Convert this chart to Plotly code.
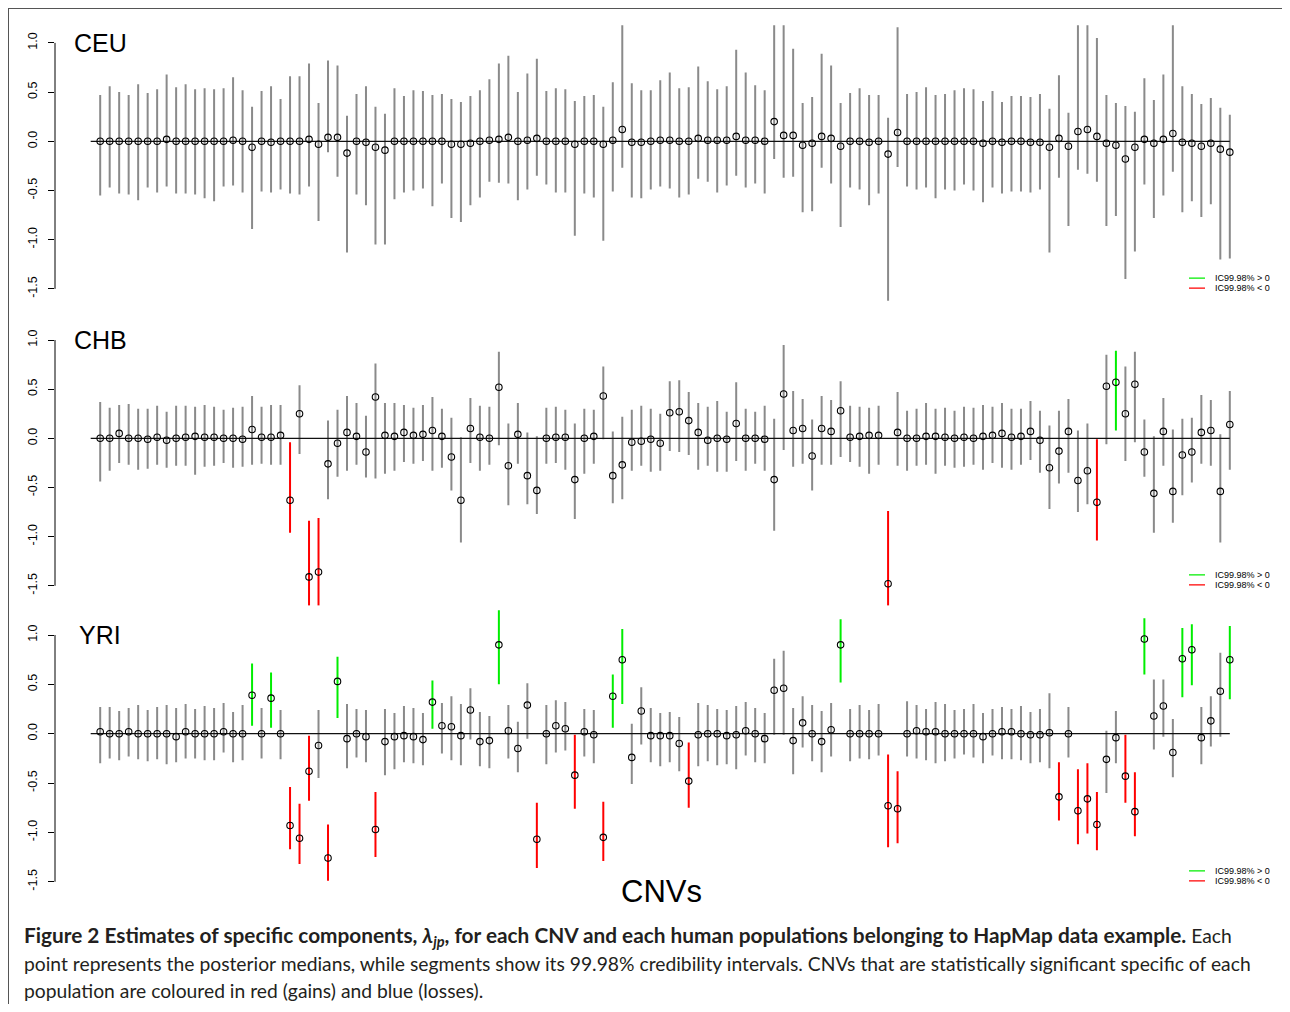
import plotly.graph_objects as go

# ---------------- data ----------------
cnv = list(range(1, 121))

ceu_med = [0,0,0,0,0,0,0,0.02,0,0,0,0,0,0,0.01,0,-0.06,0,-0.01,0,0,0,0.02,-0.03,0.04,0.04,-0.12,0,-0.01,-0.06,-0.09,0,0,0,0,0,0,-0.03,
           -0.03,-0.02,0,0.01,0.02,0.04,0,0.01,0.03,0,0,0,-0.03,0,0,-0.03,0.01,0.12,-0.01,-0.01,0,0.01,0.01,0,0,0.03,0.01,0.01,0.01,0.05,0.01,0.01,0,0.20,0.06,0.06,-0.04,-0.02,0.05,0.03,-0.05,0,0,
           -0.01,0,-0.13,0.09,0,0,0,0,0,0,0,0,-0.02,0,-0.01,0,0,-0.01,-0.01,-0.06,0.03,-0.05,0.10,0.12,0.05,-0.02,-0.04,-0.18,-0.06,0.02,-0.02,0.02,0.08,-0.01,-0.02,-0.05,-0.02,-0.08,-0.11]
ceu_hi = [0.47,0.56,0.50,0.47,0.58,0.49,0.53,0.68,0.55,0.58,0.53,0.54,0.53,0.54,0.65,0.52,0.35,0.51,0.56,0.43,0.66,0.66,0.79,0.39,0.82,0.77,0.26,0.48,0.56,0.35,0.28,0.54,0.46,0.52,0.51,0.47,0.48,0.43,
          0.40,0.46,0.52,0.63,0.79,0.87,0.50,0.69,0.84,0.51,0.54,0.53,0.41,0.46,0.47,0.35,0.60,1.30,0.59,0.52,0.52,0.62,0.70,0.54,0.55,0.76,0.61,0.53,0.56,0.93,0.70,0.57,0.52,1.30,1.30,0.94,0.39,0.45,0.89,0.77,0.39,0.49,0.54,
          0.47,0.47,0.24,1.16,0.48,0.50,0.55,0.47,0.48,0.52,0.54,0.53,0.41,0.51,0.40,0.46,0.46,0.45,0.48,0.33,0.67,0.29,1.30,1.30,1.05,0.47,0.39,0.36,0.30,0.64,0.42,0.68,1.30,0.56,0.48,0.38,0.44,0.34,0.27]
ceu_lo = [-0.55,-0.47,-0.53,-0.54,-0.60,-0.47,-0.52,-0.46,-0.53,-0.53,-0.54,-0.58,-0.61,-0.46,-0.45,-0.52,-0.89,-0.51,-0.52,-0.49,-0.53,-0.54,-0.46,-0.81,-0.11,-0.36,-1.13,-0.54,-0.65,-1.05,-1.05,-0.59,-0.52,-0.50,-0.48,-0.66,-0.43,-0.78,
          -0.82,-0.65,-0.57,-0.41,-0.42,-0.43,-0.60,-0.49,-0.35,-0.44,-0.52,-0.52,-0.96,-0.53,-0.57,-1.01,-0.51,-0.27,-0.57,-0.58,-0.49,-0.46,-0.48,-0.57,-0.54,-0.38,-0.41,-0.52,-0.45,-0.35,-0.47,-0.43,-0.53,-0.18,-0.37,-0.36,-0.72,-0.71,-0.27,-0.43,-0.87,-0.47,-0.49,
          -0.65,-0.53,-1.62,-0.26,-0.46,-0.49,-0.47,-0.58,-0.49,-0.50,-0.44,-0.50,-0.62,-0.47,-0.53,-0.51,-0.51,-0.52,-0.49,-1.13,-0.37,-0.86,-0.29,-0.33,-0.41,-0.86,-0.76,-1.40,-1.12,-0.44,-0.78,-0.55,-0.31,-0.72,-0.61,-0.77,-0.64,-1.20,-1.19]

chb_med = [0,0,0.05,0,0,-0.01,0.01,-0.02,0,0.01,0.02,0.01,0.01,0,0,-0.01,0.09,0.01,0.01,0.03,-0.63,0.25,-1.41,-1.36,-0.26,-0.05,0.06,0.02,-0.14,0.42,0.03,0.02,0.06,0.03,0.04,0.08,0.02,-0.19,
           -0.63,0.10,0.01,0,0.52,-0.28,0.04,-0.38,-0.53,0,0.01,0.01,-0.42,0,0.02,0.43,-0.38,-0.27,-0.04,-0.03,-0.01,-0.05,0.26,0.27,0.18,0.06,-0.02,0,-0.01,0.15,0,0,-0.01,-0.42,0.45,0.08,0.10,-0.18,0.10,0.07,0.28,0.01,0.02,
           0.03,0.03,-1.48,0.06,0,0,0.02,0.02,0.01,0,0.01,0,0.02,0.03,0.05,0.01,0.02,0.07,-0.02,-0.30,-0.13,0.07,-0.43,-0.33,-0.65,0.53,0.57,0.25,0.55,-0.14,-0.56,0.07,-0.54,-0.17,-0.14,0.06,0.08,-0.54,0.14]
chb_hi = [0.37,0.31,0.34,0.35,0.30,0.30,0.33,0.27,0.33,0.33,0.32,0.34,0.32,0.29,0.31,0.32,0.43,0.32,0.34,0.34,-0.04,0.54,-0.84,-0.81,0.18,0.29,0.43,0.36,0.23,0.76,0.36,0.36,0.34,0.31,0.34,0.42,0.30,0.21,
          0.01,0.41,0.33,0.32,0.88,0.15,0.36,0.06,0.02,0.31,0.32,0.29,0.15,0.30,0.29,0.73,0.07,0.22,0.29,0.33,0.30,0.25,0.58,0.59,0.47,0.36,0.32,0.38,0.27,0.57,0.30,0.27,0.33,0.20,0.95,0.48,0.40,0.19,0.43,0.39,0.58,0.33,0.32,
          0.31,0.33,-0.74,0.47,0.28,0.30,0.36,0.30,0.31,0.28,0.32,0.31,0.34,0.32,0.36,0.30,0.30,0.38,0.28,0.13,0.28,0.40,0.08,0.15,-0.01,0.85,0.89,0.73,0.88,0.19,0.02,0.41,0.09,0.20,0.21,0.44,0.39,0.04,0.48]
chb_lo = [-0.44,-0.33,-0.25,-0.27,-0.32,-0.31,-0.27,-0.30,-0.28,-0.28,-0.37,-0.29,-0.28,-0.25,-0.30,-0.29,-0.27,-0.26,-0.27,-0.27,-0.96,-0.16,-1.73,-1.73,-0.62,-0.39,-0.33,-0.27,-0.40,-0.41,-0.36,-0.33,-0.24,-0.26,-0.23,-0.33,-0.30,-0.53,
          -1.06,-0.25,-0.33,-0.27,-0.07,-0.68,-0.26,-0.67,-0.77,-0.26,-0.25,-0.32,-0.82,-0.36,-0.26,-0.01,-0.66,-0.62,-0.33,-0.28,-0.34,-0.33,-0.13,-0.14,-0.17,-0.32,-0.28,-0.34,-0.34,-0.23,-0.33,-0.26,-0.33,-0.94,-0.12,-0.29,-0.26,-0.53,-0.27,-0.27,-0.19,-0.24,-0.29,
          -0.36,-0.27,-2.03,-0.28,-0.33,-0.28,-0.27,-0.36,-0.28,-0.30,-0.29,-0.27,-0.32,-0.25,-0.30,-0.32,-0.27,-0.22,-0.35,-0.72,-0.46,-0.35,-0.75,-0.67,-1.04,-0.06,0.08,-0.23,-0.04,-0.39,-0.96,-0.28,-0.86,-0.58,-0.45,-0.26,-0.28,-1.06,-0.32]

yri_med = [0.02,0,0,0.02,0,0,0,0,-0.03,0.02,0,0,0,0.02,0,0,0.39,0,0.36,0,-0.93,-1.06,-0.38,-0.12,-1.26,0.53,-0.05,0,-0.03,-0.97,-0.08,-0.03,-0.02,-0.03,-0.06,0.32,0.08,0.07,
           -0.02,0.24,-0.08,-0.07,0.90,0.03,-0.15,0.29,-1.07,0,0.08,0.05,-0.42,0.02,-0.01,-1.05,0.38,0.75,-0.24,0.23,-0.02,-0.02,-0.02,-0.10,-0.48,-0.01,0,0,-0.02,-0.01,0.03,0,-0.05,0.44,0.46,-0.07,0.11,0,-0.08,0.04,0.90,0,0,
           0,0,-0.73,-0.76,0,0.03,0.02,0.02,0,0,0,0,-0.03,0,0.02,0.02,0,-0.01,-0.01,0.01,-0.64,0,-0.78,-0.66,-0.92,-0.26,-0.04,-0.43,-0.79,0.96,0.18,0.28,-0.19,0.76,0.85,-0.04,0.13,0.43,0.75]
yri_hi = [0.27,0.27,0.23,0.26,0.29,0.24,0.27,0.29,0.26,0.30,0.25,0.28,0.26,0.31,0.22,0.29,0.71,0.26,0.62,0.24,-0.54,-0.71,-0.02,0.24,-0.92,0.78,0.30,0.25,0.24,-0.59,0.25,0.21,0.28,0.26,0.21,0.54,0.31,0.38,
          0.30,0.46,0.22,0.18,1.25,0.29,0.12,0.51,-0.70,0.29,0.34,0.32,-0.01,0.25,0.24,-0.69,0.60,1.06,0.10,0.47,0.26,0.21,0.22,0.17,-0.09,0.31,0.29,0.25,0.24,0.28,0.32,0.26,0.21,0.76,0.84,0.26,0.38,0.29,0.23,0.31,1.16,0.25,0.29,
          0.24,0.30,-0.21,-0.38,0.33,0.29,0.25,0.32,0.30,0.24,0.25,0.30,0.21,0.25,0.27,0.25,0.28,0.22,0.25,0.41,-0.29,0.27,-0.36,-0.30,-0.59,0.03,0.23,-0.01,-0.39,1.17,0.55,0.55,0.15,1.07,1.11,0.27,0.38,0.82,1.09]
yri_lo = [-0.30,-0.25,-0.27,-0.23,-0.26,-0.28,-0.26,-0.31,-0.29,-0.25,-0.25,-0.27,-0.27,-0.19,-0.29,-0.27,0.08,-0.25,0.06,-0.26,-1.17,-1.32,-0.68,-0.45,-1.49,0.16,-0.35,-0.24,-0.29,-1.25,-0.42,-0.36,-0.29,-0.30,-0.32,0.05,-0.20,-0.27,
          -0.32,-0.06,-0.33,-0.35,0.50,-0.25,-0.39,-0.05,-1.36,-0.31,-0.19,-0.17,-0.76,-0.23,-0.30,-1.29,0.06,0.30,-0.51,-0.11,-0.29,-0.33,-0.29,-0.38,-0.75,-0.33,-0.28,-0.32,-0.31,-0.36,-0.22,-0.29,-0.30,-0.01,-0.01,-0.41,-0.14,-0.28,-0.39,-0.23,0.52,-0.28,-0.25,
          -0.26,-0.22,-1.15,-1.11,-0.23,-0.25,-0.27,-0.30,-0.28,-0.25,-0.21,-0.24,-0.30,-0.22,-0.26,-0.26,-0.27,-0.30,-0.29,-0.35,-0.88,-0.24,-1.12,-1.01,-1.18,-0.60,-0.30,-0.70,-1.04,0.60,-0.16,-0.03,-0.44,0.37,0.49,-0.31,-0.13,-0.03,0.35]

populations = ["CEU", "CHB", "YRI"]
y_tick_vals = [-1.5, -1.0, -0.5, 0.0, 0.5, 1.0]
y_tick_text = ["-1.5", "-1.0", "-0.5", "0.0", "0.5", "1.0"]
legend_labels = ["IC99.98% > 0", "IC99.98% < 0"]

for arr in (ceu_med, ceu_hi, ceu_lo, chb_med, chb_hi, chb_lo, yri_med, yri_hi, yri_lo):
    assert len(arr) == 120, len(arr)

# ---------------- styling / geometry ----------------
OFF = 8                      # the page body margin: figure starts at page (8, 8)
FW, FH = 1282, 996           # figure size so that the page stays 1290 x 1012


def px(x):                   # page x pixel -> paper fraction
    return (x - OFF) / FW


def py(y):                   # page y pixel -> paper fraction
    return 1 - (y - OFF) / FH


FONT = "Liberation Sans, Arial, Helvetica, sans-serif"
GRAY, RED, GREEN = "#8a8a8a", "#ff0000", "#00ee00"
XL, XR = 55, 1275                      # plot region in page px
n = len(cnv)
ext = 0.04 * (n - 1)
x_range = [1 - ext, n + ext]
# (zero-line page row, px per unit, y range)
geom = [(141.3, 98.4, [-1.75, 1.18]),
        (438.3, 98.3, [-2.10, 1.10]),
        (733.7, 98.7, [-1.60, 1.30])]

data = [(ceu_med, ceu_lo, ceu_hi), (chb_med, chb_lo, chb_hi), (yri_med, yri_lo, yri_hi)]

fig = go.Figure()
shapes, annotations = [], []


def seg_xy(idx, lo, hi):
    xs, ys = [], []
    for i in idx:
        xs += [cnv[i], cnv[i], None]
        ys += [lo[i], hi[i], None]
    return xs, ys


for p, (name, (med, lo, hi), (z, s, yr)) in enumerate(zip(populations, data, geom)):
    k = "" if p == 0 else str(p + 1)
    xa, ya = "x" + k, "y" + k
    gray_i = [i for i in range(n) if lo[i] <= 0 <= hi[i]]
    green_i = [i for i in range(n) if lo[i] > 0]
    red_i = [i for i in range(n) if hi[i] < 0]
    for idx, col in ((gray_i, GRAY), (green_i, GREEN), (red_i, RED)):
        xs, ys = seg_xy(idx, lo, hi)
        fig.add_trace(go.Scatter(x=xs, y=ys, mode="lines", xaxis=xa, yaxis=ya,
                                 line=dict(color=col, width=2), hoverinfo="skip", showlegend=False))
    fig.add_trace(go.Scatter(x=[0, n], y=[0, 0], mode="lines", xaxis=xa, yaxis=ya,
                             line=dict(color="#111111", width=1.3), hoverinfo="skip", showlegend=False))
    fig.add_trace(go.Scatter(x=cnv, y=med, mode="markers", xaxis=xa, yaxis=ya, showlegend=False,
                             marker=dict(symbol="circle-open", size=6.5, color="black",
                                         line=dict(width=1.1, color="black"))))

    ptop = z - yr[1] * s
    pbot = z - yr[0] * s
    dom = [py(pbot), py(ptop)]
    fig.update_layout(**{
        "xaxis" + k: dict(domain=[px(XL), px(XR)], range=x_range, visible=False, anchor=ya),
        "yaxis" + k: dict(domain=dom, range=yr, anchor=xa, showgrid=False, zeroline=False,
                          showline=False, ticks="outside", ticklen=6, tickwidth=1, tickcolor="black",
                          tickvals=y_tick_vals, ticktext=y_tick_text, tickangle=-90,
                          tickfont=dict(family=FONT, size=12.5, color="black"),
                          ticklabelstandoff=6),
    })
    # axis line spanning the tick range only
    shapes.append(dict(type="line", xref="paper", yref=ya, x0=px(XL), x1=px(XL),
                       y0=y_tick_vals[0], y1=y_tick_vals[-1], line=dict(color="black", width=1)))
    # panel title
    annotations.append(dict(xref=xa, yref=ya, x=1, y=1.0, text=name, showarrow=False,
                            xanchor="center", yanchor="middle",
                            font=dict(family=FONT, size=25, color="black")))
    # legend
    for j, (lab, col) in enumerate(zip(legend_labels, (GREEN, RED))):
        yy = -1.39 - 0.102 * j
        shapes.append(dict(type="line", xref="paper", yref=ya, x0=px(1189), x1=px(1205),
                           y0=yy, y1=yy, line=dict(color=col, width=1.3)))
        annotations.append(dict(xref="paper", yref=ya, x=px(1213), y=yy, text=lab, showarrow=False,
                                xanchor="left", yanchor="middle",
                                font=dict(family=FONT, size=9, color="black")))

# x label
annotations.append(dict(xref="paper", yref="paper", x=px(661), y=py(891), text="CNVs",
                        showarrow=False, xanchor="center", yanchor="middle",
                        font=dict(family=FONT, size=31, color="black")))

# caption
CAP = "Lato, 'Open Sans', sans-serif"
cap_lines = [
    "<span style='font-size:20.8px'><b>Figure 2 Estimates of specific components, <i>λ<sub>jp</sub></i>, for each CNV and each human populations belonging to HapMap data example.</b></span> Each",
    "point represents the posterior medians, while segments show its 99.98% credibility intervals. CNVs that are statistically significant specific of each",
    "population are coloured in red (gains) and blue (losses).",
]
for t, yc in zip(cap_lines, (936, 963, 990)):
    annotations.append(dict(xref="paper", yref="paper", x=px(22), y=py(yc), text=t,
                            showarrow=False, xanchor="left", yanchor="middle", align="left",
                            font=dict(family=CAP, size=19.3, color="#231f20")))

# frame
shapes.append(dict(type="line", xref="paper", yref="paper", x0=px(8), x1=px(1288),
                   y0=py(8.5), y1=py(8.5), line=dict(color="#555555", width=1)))
shapes.append(dict(type="line", xref="paper", yref="paper", x0=px(8.5), x1=px(8.5),
                   y0=py(8.5), y1=0, line=dict(color="#555555", width=1)))

fig.update_layout(width=FW, height=FH, margin=dict(l=0, r=0, t=0, b=0),
                  paper_bgcolor="white", plot_bgcolor="white",
                  shapes=shapes, annotations=annotations, showlegend=False)

fig.write_html("out.html")
